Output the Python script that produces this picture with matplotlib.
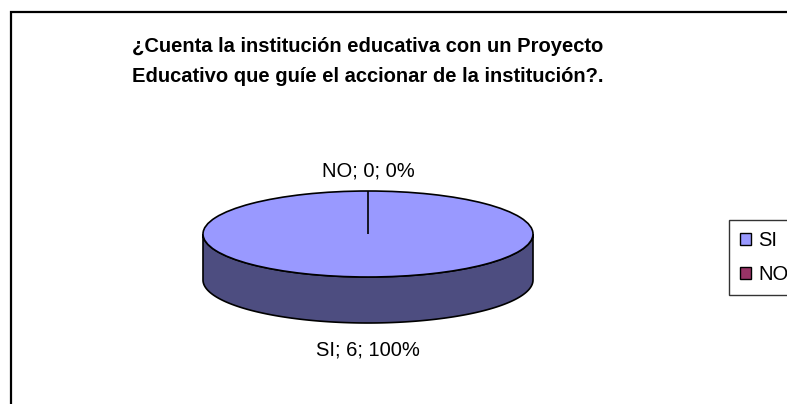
import numpy as np
import matplotlib
matplotlib.use("Agg")
from matplotlib import pyplot as plt
from matplotlib.patches import Rectangle, Polygon

plt.rcParams['font.family'] = ['Liberation Sans', 'DejaVu Sans']

# data
categories = ["SI", "NO"]
counts = [6, 0]
colors = ["#9999FF", "#993366"]
side_colors = ["#4D4D80", "#4D1A33"]
title = "¿Cuenta la institución educativa con un Proyecto\nEducativo que guíe el accionar de la institución?."

W, H = 787, 404
fig = plt.figure(figsize=(W / 100, H / 100), dpi=100)
fig.patch.set_facecolor("white")

# outer chart border (only top and left visible)
fig.patches.append(Rectangle((11 / W, -0.2), 1.2, (H - 12) / H + 0.2, transform=fig.transFigure,
                             fill=False, edgecolor="black", lw=1.6))

fig.text(368 / W, 1 - 46 / H, title.split("\n")[0], ha="center", va="center",
         fontsize=14.5, fontweight="bold")
fig.text(368 / W, 1 - 77 / H, title.split("\n")[1], ha="center", va="center",
         fontsize=14.5, fontweight="bold")

# pie axes: x radius 165 px, y radius 43 px, depth 46 px
rx, ry, depth_px = 165.0, 43.0, 46.0
depth = depth_px / ry
cx, cy = 368.0, 234.0
xl = 1.2
ylo, yhi = -1.2 - depth - 0.3, 1.2
left = cx - xl * rx
top = cy - yhi * ry
ax = fig.add_axes([left / W, 1 - (top + (yhi - ylo) * ry) / H, 2 * xl * rx / W, (yhi - ylo) * ry / H])

total = sum(counts)
wedges, _ = ax.pie(counts, colors=colors, startangle=90, counterclock=False,
                   wedgeprops=dict(edgecolor="black", linewidth=1.2))
ax.set_aspect("auto")
ax.set_xlim(-xl, xl)
ax.set_ylim(ylo, yhi)
ax.axis("off")

# side wall for the front half of each wedge
for w, sc in zip(wedges, side_colors):
    t1, t2 = sorted([w.theta1, w.theta2])
    if t2 - t1 <= 0:
        continue
    angs = []
    for base in (-360, 0, 360):
        a = np.linspace(max(t1, base + 180), min(t2, base + 360), 200)
        if a[-1] > a[0]:
            angs.append(a)
    for a in angs:
        r = np.radians(a)
        xs = np.cos(r)
        ys = np.sin(r)
        pts = np.vstack([np.column_stack([xs, ys]), np.column_stack([xs[::-1], ys[::-1] - depth])])
        ax.add_patch(Polygon(pts, closed=True, facecolor=sc, edgecolor="black", lw=1.2, zorder=0))

# data labels
fig.text(368 / W, 1 - 171 / H, f"{categories[1]}; {counts[1]}; {counts[1] / total:.0%}",
         ha="center", va="center", fontsize=14.5)
fig.text(368 / W, 1 - 350 / H, f"{categories[0]}; {counts[0]}; {counts[0] / total:.0%}",
         ha="center", va="center", fontsize=14.5)

handles = [Rectangle((0, 0), 1, 1, facecolor=c, edgecolor="black", lw=1) for c in colors]
leg = fig.legend(handles, categories, loc="upper left", bbox_to_anchor=(729 / W, 1 - 220 / H),
                 fontsize=14.5, frameon=True, fancybox=False, handlelength=0.55, handleheight=0.55,
                 handletextpad=0.35, labelspacing=0.75, borderpad=0.55, borderaxespad=0)
leg.get_frame().set_edgecolor("black")
leg.get_frame().set_linewidth(1)

fig.savefig("out.png", dpi=100)
